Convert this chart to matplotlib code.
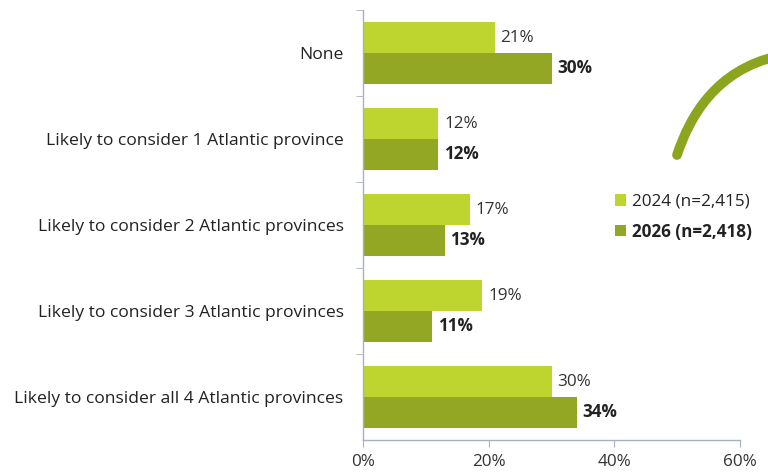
import matplotlib
matplotlib.use("Agg")
import matplotlib.pyplot as plt
from matplotlib.path import Path
from matplotlib.patches import PathPatch, Patch

categories = ["None", "Likely to consider 1 Atlantic province", "Likely to consider 2 Atlantic provinces",
              "Likely to consider 3 Atlantic provinces", "Likely to consider all 4 Atlantic provinces"]
values_2024 = [21, 12, 17, 19, 30]
values_2026 = [30, 12, 13, 11, 34]
series_labels = ["2024 (n=2,415)", "2026 (n=2,418)"]
xticks = [0, 20, 40, 60]

c24 = "#BED530"
c26 = "#93A724"
axis_col = "#A9AFC2"
text_col = "#222222"
fs = 12.3

plt.rcParams['font.family'] = ['Open Sans', 'DejaVu Sans']

fig = plt.figure(figsize=(7.68, 4.76), dpi=100)
ax = fig.add_axes([363/768, 1-440/476, (740-363)/768, 430/476])

n = len(categories)
h = 0.36
ypos = list(range(n))
y24 = [y - h/2 for y in ypos]
y26 = [y + h/2 for y in ypos]
ax.barh(y24, values_2024, height=h, color=c24, label=series_labels[0])
ax.barh(y26, values_2026, height=h, color=c26, label=series_labels[1])

for y, v in zip(y24, values_2024):
    ax.text(v + 0.9, y, f"{v}%", va="center", ha="left", fontsize=fs, color="#333333")
for y, v in zip(y26, values_2026):
    ax.text(v + 0.9, y, f"{v}%", va="center", ha="left", fontsize=fs, color=text_col, fontweight="bold")

ax.set_xlim(0, 60)
ax.set_ylim(n - 0.5, -0.5)
ax.set_xticks(xticks)
ax.set_xticklabels([f"{t}%" for t in xticks], fontsize=fs, color="#333333")
ax.set_yticks(ypos)
ax.set_yticklabels(categories, fontsize=12.6, color=text_col)
ax.tick_params(axis="y", length=0, pad=14)
ax.set_yticks([y + 0.5 for y in ypos[:-1]] + [-0.5], minor=True)
ax.tick_params(axis="y", which="minor", length=5, color=axis_col, direction="out")
ax.tick_params(axis="x", length=5, color=axis_col, direction="out", pad=5)
for s in ["top", "right"]:
    ax.spines[s].set_visible(False)
for s in ["left", "bottom"]:
    ax.spines[s].set_color(axis_col)
    ax.spines[s].set_linewidth(1)

# legend
handles = [Patch(facecolor=c24), Patch(facecolor=c26)]
leg = fig.legend(handles, series_labels, loc="upper left", bbox_to_anchor=(608/768, 1-187/476),
                 frameon=False, fontsize=fs, handlelength=0.65, handleheight=0.65,
                 handletextpad=0.35, labelspacing=0.75, borderaxespad=0)
for t in leg.get_texts():
    t.set_color(text_col)
leg.get_texts()[1].set_fontweight("bold")

# decorative arc
W, H = 768, 476
pts = [(677, 155), (690, 116), (716, 70), (778, 56)]
verts = [(x / W, 1 - y / H) for x, y in pts]
path = Path(verts, [Path.MOVETO, Path.CURVE4, Path.CURVE4, Path.CURVE4])
fig.patches.append(PathPatch(path, transform=fig.transFigure, facecolor="none",
                             edgecolor="#8CA51E", lw=7, capstyle="round"))

fig.savefig("out.png", dpi=100, facecolor="white")
